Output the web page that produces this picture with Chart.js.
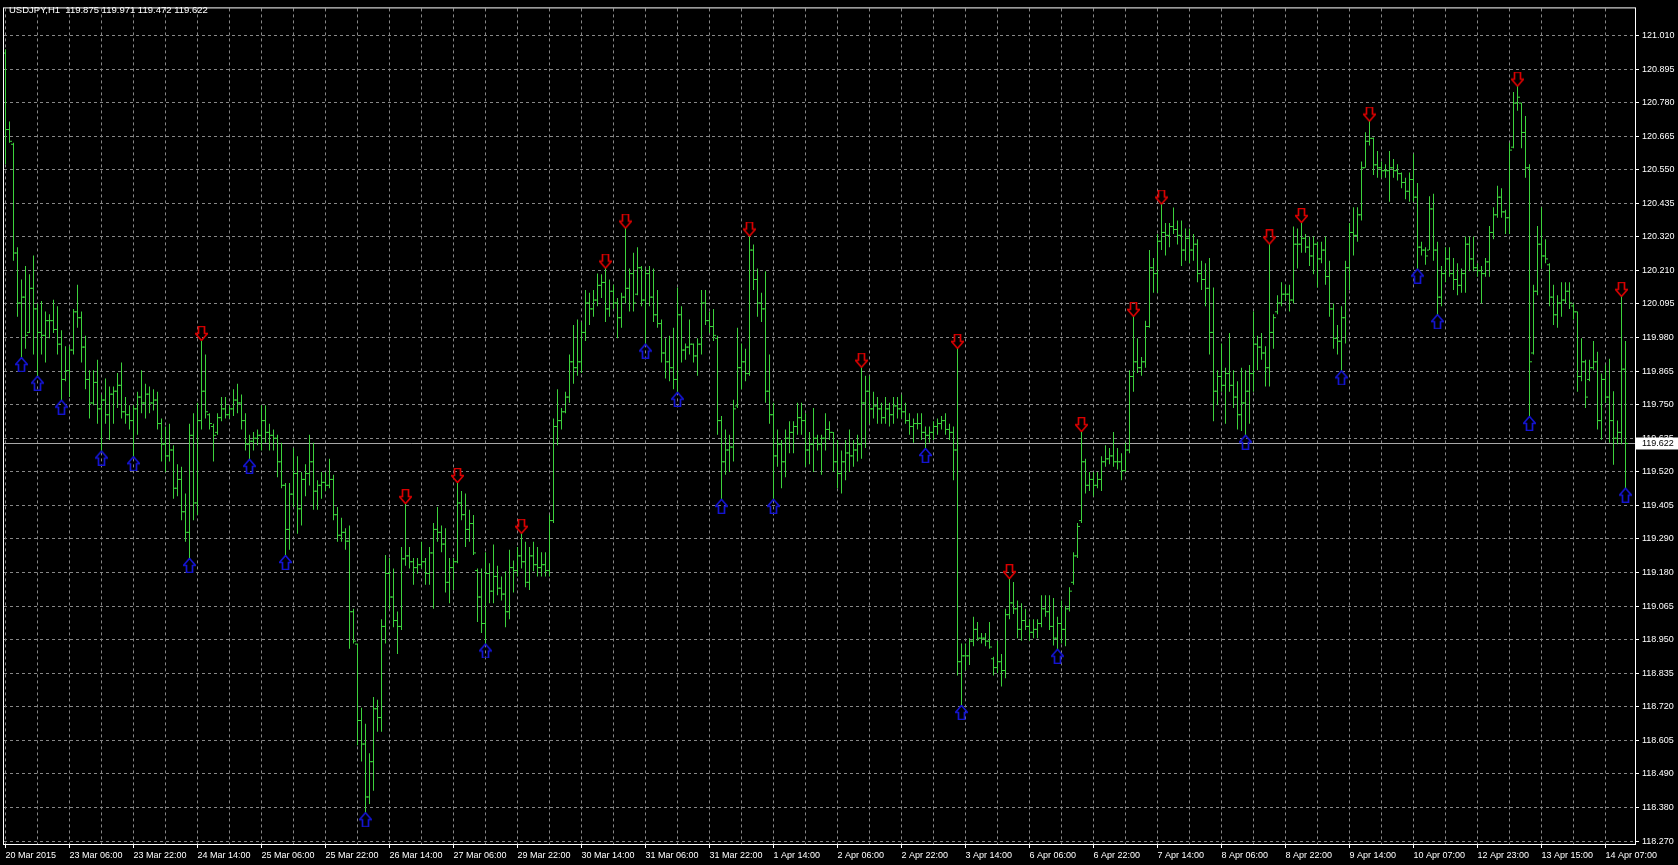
<!DOCTYPE html>
<html>
<head>
<meta charset="utf-8">
<title>USDJPY,H1</title>
<script src="https://cdn.jsdelivr.net/npm/chart.js@4.4.1/dist/chart.umd.min.js"></script>
<style>
  html, body { margin: 0; padding: 0; background: #000; }
  canvas { display: block; background: #000; }
</style>
</head>
<body>
<canvas id="chart" width="1678" height="865"></canvas>
<script>
const symbol = 'USDJPY,H1';

// one label every 16 hourly bars, starting at bar 0
const timeLabels = [
    '20 Mar 2015', '23 Mar 06:00', '23 Mar 22:00', '24 Mar 14:00', '25 Mar 06:00', '25 Mar 22:00',
    '26 Mar 14:00', '27 Mar 06:00', '29 Mar 22:00', '30 Mar 14:00', '31 Mar 06:00', '31 Mar 22:00',
    '1 Apr 14:00', '2 Apr 06:00', '2 Apr 22:00', '3 Apr 14:00', '6 Apr 06:00', '6 Apr 22:00',
    '7 Apr 14:00', '8 Apr 06:00', '8 Apr 22:00', '9 Apr 14:00', '10 Apr 07:00', '12 Apr 23:00',
    '13 Apr 15:00', '14 Apr 07:00'
];

const priceLabels = [
    '121.010', '120.895', '120.780', '120.665', '120.550', '120.435', '120.320', '120.210', '120.095',
    '119.980', '119.865', '119.750', '119.635', '119.520', '119.405', '119.290', '119.180', '119.065',
    '118.950', '118.835', '118.720', '118.605', '118.490', '118.380', '118.270'
];

const opens = [
    120.950,120.690,120.640,120.270,120.100,120.120,120.000,120.150,120.080,120.000,
    119.990,120.040,120.040,120.010,119.960,119.840,119.870,119.940,120.070,120.050,
    119.950,119.840,119.760,119.830,119.740,119.770,119.720,119.790,119.800,119.820,
    119.730,119.720,119.700,119.740,119.780,119.760,119.790,119.760,119.770,119.690,
    119.620,119.580,119.600,119.470,119.500,119.390,119.320,119.650,119.420,119.700,
    119.800,119.720,119.680,119.660,119.710,119.740,119.720,119.740,119.770,119.760,
    119.700,119.620,119.630,119.640,119.650,119.700,119.660,119.650,119.640,119.560,
    119.480,119.330,119.450,119.520,119.400,119.500,119.520,119.560,119.460,119.480,
    119.490,119.480,119.500,119.380,119.310,119.320,119.290,119.050,118.940,118.680,
    118.600,118.420,118.540,118.720,118.690,119.000,119.180,119.100,119.020,119.000,
    119.230,119.240,119.220,119.200,119.210,119.220,119.180,119.250,119.330,119.320,
    119.280,119.150,119.200,119.220,119.420,119.380,119.330,119.350,119.190,119.100,
    119.010,119.180,119.120,119.170,119.130,119.110,119.050,119.200,119.190,119.240,
    119.220,119.150,119.240,119.210,119.200,119.210,119.190,119.360,119.680,119.700,
    119.730,119.780,119.900,119.880,119.900,120.000,120.100,120.080,120.110,120.160,
    120.170,120.080,120.140,120.100,120.050,120.120,120.150,120.200,120.130,120.220,
    120.110,120.200,120.120,120.060,120.030,119.930,119.900,119.880,119.840,120.060,
    119.940,119.950,119.960,119.920,119.960,120.100,120.040,120.020,119.980,119.700,
    119.560,119.600,119.610,119.750,119.880,119.900,119.860,120.280,120.180,120.100,
    120.080,119.800,119.720,119.580,119.620,119.560,119.640,119.660,119.680,119.710,
    119.700,119.600,119.620,119.640,119.620,119.640,119.670,119.660,119.560,119.520,
    119.560,119.590,119.580,119.600,119.620,119.760,119.800,119.740,119.750,119.740,
    119.710,119.740,119.720,119.750,119.740,119.730,119.700,119.680,119.690,119.690,
    119.660,119.650,119.660,119.680,119.690,119.700,119.670,119.660,119.600,118.880,
    118.900,118.900,118.950,118.990,118.960,118.960,118.950,118.890,118.860,118.880,
    118.850,119.040,119.080,119.060,118.990,119.020,119.000,118.980,118.990,119.010,
    119.060,119.050,119.000,118.960,119.010,118.990,119.060,119.150,119.240,119.360,
    119.560,119.480,119.500,119.480,119.500,119.560,119.570,119.580,119.560,119.560,
    119.530,119.600,119.850,119.900,119.880,119.900,120.020,120.220,120.200,120.310,
    120.340,120.330,120.360,120.350,120.330,120.280,120.320,120.280,120.300,120.200,
    120.180,120.150,120.000,119.800,119.850,119.820,119.860,119.820,119.780,119.720,
    119.760,119.800,119.860,119.960,119.950,119.930,119.880,120.000,120.070,120.100,
    120.130,120.130,120.110,120.300,120.300,120.320,120.290,120.260,120.300,120.250,
    120.280,120.190,120.080,119.980,119.970,120.050,120.220,120.340,120.330,120.400,
    120.560,120.650,120.660,120.570,120.560,120.550,120.550,120.560,120.550,120.540,
    120.510,120.480,120.520,120.460,120.290,120.280,120.280,120.420,120.280,120.120,
    120.200,120.250,120.200,120.180,120.160,120.200,120.300,120.250,120.220,120.210,
    120.200,120.240,120.340,120.400,120.460,120.410,120.390,120.630,120.780,120.780,
    120.680,120.560,119.930,120.140,120.300,120.260,120.230,120.120,120.060,120.100,
    120.110,120.140,120.090,120.070,119.850,119.900,119.840,119.880,119.900,119.700,
    119.840,119.780,119.700,119.640,119.660,119.875
];

const highs = [
    120.963,120.717,120.645,120.290,120.180,120.226,120.198,120.262,120.098,120.107,
    120.071,120.062,120.111,120.089,120.007,119.953,119.953,120.080,120.162,120.071,
    119.989,119.871,119.871,119.907,119.789,119.843,119.816,119.816,119.862,119.898,
    119.780,119.752,119.752,119.798,119.871,119.825,119.816,119.807,119.798,119.707,
    119.680,119.689,119.616,119.552,119.543,119.452,119.689,119.725,119.761,119.971,
    119.925,119.725,119.689,119.725,119.780,119.780,119.752,119.807,119.825,119.789,
    119.725,119.652,119.661,119.670,119.752,119.752,119.689,119.670,119.652,119.625,
    119.488,119.488,119.607,119.579,119.525,119.552,119.652,119.625,119.497,119.525,
    119.525,119.570,119.516,119.406,119.370,119.334,119.343,119.060,118.942,118.723,
    118.669,118.569,118.760,118.751,119.024,119.243,119.233,119.197,119.051,119.270,
    119.416,119.270,119.233,119.233,119.288,119.233,119.270,119.352,119.406,119.343,
    119.334,119.233,119.233,119.488,119.461,119.452,119.397,119.379,119.197,119.197,
    119.252,119.215,119.279,119.206,119.170,119.188,119.261,119.224,119.270,119.315,
    119.288,119.270,119.288,119.270,119.252,119.252,119.379,119.707,119.807,119.743,
    119.798,119.925,120.025,120.044,120.035,120.144,120.135,120.144,120.200,120.198,
    120.217,120.180,120.162,120.117,120.135,120.353,120.217,120.271,120.290,120.226,
    120.217,120.226,120.217,120.144,120.044,119.980,119.989,120.016,120.153,120.089,
    119.962,120.044,119.962,119.980,120.144,120.144,120.071,120.080,119.989,119.716,
    119.670,119.652,119.771,120.016,119.962,119.944,120.326,120.299,120.217,120.135,
    120.208,119.925,119.761,119.670,119.634,119.670,119.698,119.698,119.761,119.761,
    119.725,119.661,119.743,119.652,119.652,119.725,119.698,119.661,119.634,119.598,
    119.634,119.670,119.634,119.652,119.880,119.853,119.853,119.798,119.780,119.761,
    119.780,119.761,119.780,119.780,119.789,119.761,119.725,119.707,119.725,119.725,
    119.680,119.680,119.698,119.707,119.716,119.725,119.689,119.680,119.944,118.942,
    118.942,118.960,119.033,119.015,118.978,118.978,119.015,118.897,118.951,118.906,
    119.060,119.161,119.151,119.088,119.079,119.060,119.024,119.024,119.024,119.106,
    119.106,119.106,119.097,119.033,119.088,119.070,119.133,119.252,119.352,119.661,
    119.570,119.525,119.525,119.525,119.579,119.616,119.607,119.661,119.607,119.589,
    119.625,119.871,120.053,119.980,119.916,120.040,120.280,120.253,120.335,120.435,
    120.372,120.372,120.425,120.381,120.381,120.353,120.353,120.335,120.317,120.244,
    120.235,120.253,120.153,119.871,119.962,119.880,119.998,119.871,119.834,119.880,
    119.871,119.889,120.071,119.989,119.998,119.953,120.299,120.062,120.126,120.171,
    120.162,120.162,120.360,120.353,120.372,120.335,120.326,120.326,120.308,120.308,
    120.326,120.244,120.098,120.025,120.089,120.244,120.372,120.426,120.426,120.581,
    120.681,120.717,120.663,120.617,120.581,120.572,120.617,120.590,120.572,120.544,
    120.526,120.544,120.608,120.508,120.308,120.290,120.463,120.472,120.308,120.226,
    120.290,120.290,120.253,120.235,120.217,120.326,120.326,120.326,120.235,120.226,
    120.253,120.362,120.426,120.499,120.490,120.417,120.645,120.818,120.836,120.781,
    120.736,120.572,120.162,120.362,120.426,120.317,120.235,120.162,120.126,120.171,
    120.171,120.171,120.098,120.071,119.980,119.907,119.907,119.971,119.934,119.860,
    119.890,119.910,119.800,119.700,120.121,119.971
];

const lows = [
    120.572,120.645,120.244,120.053,119.916,119.944,119.998,119.925,119.853,119.925,
    119.898,119.980,119.998,119.925,119.771,119.834,119.780,119.925,120.016,119.898,
    119.807,119.707,119.752,119.689,119.598,119.689,119.634,119.689,119.743,119.707,
    119.689,119.670,119.579,119.652,119.725,119.707,119.725,119.734,119.670,119.561,
    119.525,119.561,119.434,119.443,119.361,119.288,119.233,119.361,119.379,119.670,
    119.707,119.670,119.561,119.652,119.698,119.707,119.707,119.716,119.725,119.670,
    119.598,119.570,119.598,119.616,119.598,119.625,119.598,119.598,119.507,119.470,
    119.243,119.261,119.406,119.315,119.343,119.443,119.479,119.397,119.397,119.434,
    119.461,119.470,119.361,119.288,119.288,119.261,118.924,118.942,118.596,118.541,
    118.368,118.396,118.441,118.642,118.642,118.942,119.060,118.997,118.906,118.988,
    119.206,119.197,119.142,119.179,119.197,119.142,119.142,119.060,119.288,119.252,
    119.115,119.079,119.124,119.215,119.361,119.270,119.288,119.243,119.015,118.978,
    118.942,119.079,119.079,119.106,119.088,118.997,119.024,119.115,119.170,119.197,
    119.133,119.124,119.188,119.170,119.170,119.170,119.170,119.352,119.616,119.670,
    119.725,119.761,119.825,119.853,119.862,119.971,120.025,120.053,120.089,120.117,
    120.035,120.053,120.080,119.980,120.016,120.098,120.071,120.071,120.126,120.089,
    119.962,120.089,120.035,120.016,119.898,119.843,119.834,119.807,119.798,119.898,
    119.907,119.925,119.898,119.853,119.925,120.025,119.998,119.971,119.652,119.434,
    119.516,119.525,119.561,119.743,119.807,119.834,119.853,120.144,120.053,120.035,
    119.761,119.689,119.434,119.543,119.470,119.507,119.589,119.589,119.652,119.652,
    119.543,119.552,119.525,119.598,119.516,119.598,119.634,119.525,119.470,119.452,
    119.497,119.525,119.543,119.561,119.570,119.607,119.689,119.707,119.689,119.689,
    119.689,119.680,119.689,119.707,119.707,119.689,119.652,119.625,119.670,119.634,
    119.607,119.625,119.634,119.652,119.670,119.652,119.634,119.497,118.833,118.733,
    118.851,118.869,118.933,118.951,118.942,118.933,118.924,118.833,118.842,118.796,
    118.824,119.024,119.042,118.960,118.951,118.988,118.951,118.960,118.960,118.997,
    119.033,118.988,118.935,118.924,118.942,118.933,119.051,119.142,119.233,119.352,
    119.452,119.461,119.443,119.470,119.461,119.543,119.552,119.543,119.534,119.497,
    119.525,119.589,119.798,119.862,119.853,119.880,120.016,120.135,120.135,120.280,
    120.262,120.290,120.335,120.299,120.226,120.244,120.235,120.244,120.171,120.144,
    120.089,119.925,119.698,119.752,119.798,119.689,119.798,119.743,119.670,119.665,
    119.652,119.689,119.798,119.871,119.907,119.816,119.816,119.944,120.062,120.089,
    120.107,120.071,120.098,120.217,120.271,120.271,120.226,120.198,120.153,120.235,
    120.162,120.053,119.944,119.925,119.871,119.962,120.144,120.262,120.308,120.381,
    120.560,120.636,120.535,120.526,120.526,120.526,120.444,120.526,120.517,120.490,
    120.453,120.444,120.444,120.217,120.262,120.230,120.280,120.244,120.062,120.089,
    120.171,120.189,120.144,120.126,120.135,120.135,120.208,120.208,120.189,120.098,
    120.189,120.189,120.317,120.390,120.390,120.335,120.335,120.626,120.754,120.626,
    120.526,119.716,119.925,120.126,120.217,120.235,120.089,120.025,120.016,120.053,
    120.098,120.080,120.044,119.798,119.834,119.743,119.834,119.871,119.670,119.635,
    119.760,119.625,119.550,119.620,119.620,119.472
];

const closes = [
    120.690,120.650,120.270,120.100,120.120,119.990,120.150,120.080,120.000,119.990,
    120.040,120.040,120.010,119.960,119.840,119.870,119.940,120.070,120.050,119.950,
    119.840,119.760,119.830,119.740,119.770,119.720,119.790,119.800,119.820,119.730,
    119.720,119.700,119.740,119.780,119.760,119.790,119.760,119.770,119.690,119.620,
    119.580,119.600,119.470,119.500,119.390,119.320,119.650,119.420,119.700,119.800,
    119.730,119.690,119.650,119.710,119.740,119.720,119.740,119.770,119.760,119.700,
    119.620,119.630,119.640,119.650,119.700,119.660,119.650,119.640,119.560,119.480,
    119.330,119.450,119.520,119.400,119.500,119.520,119.560,119.460,119.480,119.490,
    119.480,119.500,119.380,119.310,119.320,119.290,119.050,118.950,118.680,118.600,
    118.420,118.540,118.720,118.690,119.000,119.180,119.100,119.020,119.000,119.230,
    119.240,119.220,119.200,119.210,119.220,119.180,119.250,119.330,119.320,119.280,
    119.150,119.200,119.220,119.420,119.380,119.330,119.350,119.250,119.100,119.010,
    119.180,119.120,119.170,119.130,119.110,119.050,119.200,119.190,119.240,119.220,
    119.150,119.240,119.210,119.200,119.210,119.190,119.360,119.680,119.700,119.730,
    119.780,119.900,119.880,119.900,120.000,120.100,120.080,120.110,120.160,120.170,
    120.080,120.140,120.100,120.050,120.120,120.150,120.200,120.100,120.220,120.110,
    120.200,120.120,120.060,120.030,119.930,119.900,119.880,119.840,120.060,119.940,
    119.950,119.960,119.920,119.960,120.100,120.040,120.020,119.990,119.700,119.560,
    119.600,119.610,119.740,119.880,119.900,119.860,120.280,120.180,120.100,120.080,
    119.800,119.720,119.580,119.620,119.560,119.640,119.660,119.680,119.710,119.700,
    119.600,119.620,119.640,119.620,119.640,119.670,119.660,119.560,119.520,119.560,
    119.590,119.580,119.600,119.620,119.760,119.800,119.740,119.750,119.740,119.710,
    119.740,119.720,119.750,119.740,119.730,119.700,119.680,119.690,119.690,119.660,
    119.650,119.660,119.680,119.690,119.700,119.670,119.660,119.600,118.880,118.900,
    118.900,118.950,118.990,118.960,118.960,118.950,118.930,118.860,118.880,118.850,
    119.040,119.080,119.060,118.990,119.020,119.000,118.980,118.990,119.010,119.060,
    119.050,119.000,118.960,119.010,118.990,119.060,119.120,119.240,119.340,119.560,
    119.480,119.500,119.480,119.500,119.560,119.570,119.580,119.560,119.560,119.530,
    119.600,119.850,119.900,119.880,119.900,120.020,120.220,120.200,120.310,120.340,
    120.330,120.360,120.350,120.330,120.280,120.320,120.280,120.300,120.200,120.180,
    120.150,120.000,119.800,119.850,119.820,119.860,119.820,119.780,119.720,119.760,
    119.800,119.860,119.960,119.950,119.930,119.880,120.000,120.050,120.100,120.130,
    120.130,120.110,120.300,120.300,120.320,120.290,120.260,120.300,120.250,120.280,
    120.190,120.080,119.980,119.970,120.050,120.220,120.340,120.330,120.400,120.560,
    120.650,120.660,120.570,120.560,120.550,120.550,120.560,120.550,120.540,120.510,
    120.480,120.520,120.460,120.290,120.280,120.260,120.420,120.280,120.120,120.200,
    120.250,120.200,120.180,120.160,120.200,120.300,120.250,120.220,120.210,120.200,
    120.240,120.340,120.400,120.460,120.410,120.390,120.620,120.780,120.800,120.680,
    120.560,119.900,120.140,120.300,120.260,120.250,120.120,120.060,120.100,120.110,
    120.140,120.100,120.070,119.850,119.900,119.780,119.880,119.900,119.700,119.840,
    119.780,119.700,119.640,119.660,119.875,119.622
];

// bar numbers carrying a fractal arrow
const upFractals = [4, 8, 14, 24, 32, 46, 61, 70, 90, 120, 160, 168, 179, 192, 230, 239, 263, 310, 334, 353, 358, 381, 405];
const downFractals = [49, 100, 113, 129, 150, 155, 186, 214, 238, 251, 269, 282, 289, 316, 324, 341, 378, 404];

const BAR_COLOR = '#3cd23c';
const GRID_COLOR = 'rgb(135,135,135)';
const TEXT_COLOR = '#ffffff';
const FONT = '"Liberation Sans", Arial, sans-serif';
const TICK_SHIFT = 0.375;

// hollow arrow glyph, tip sits on the middle line of the canvas
function makeArrow(color, down) {
    const c = document.createElement('canvas');
    c.width = 13;
    c.height = 30;
    const g = c.getContext('2d');
    const pts = down
        ? [[3.5, 0.5], [9.5, 0.5], [9.5, 7.5], [12.5, 7.5], [6.5, 14.5], [0.5, 7.5], [3.5, 7.5]]
        : [[6.5, 15.5], [12.5, 22.5], [9.5, 22.5], [9.5, 29.5], [3.5, 29.5], [3.5, 22.5], [0.5, 22.5]];
    g.beginPath();
    pts.forEach(([x, y], i) => i ? g.lineTo(x, y) : g.moveTo(x, y));
    g.closePath();
    g.strokeStyle = color;
    g.lineWidth = 1.7;
    g.stroke();
    return c;
}

const bars = highs.map((h, i) => ({x: i, y: [lows[i], h]}));
const openTicks = opens.map((v, i) => ({x: i - TICK_SHIFT, y: v}));
const closeTicks = closes.map((v, i) => ({x: i + TICK_SHIFT, y: v}));
const upArrows = upFractals.map(i => ({x: i, y: lows[i]}));
const downArrows = downFractals.map(i => ({x: i, y: highs[i]}));

const last = closes.length - 1;
const header = `${symbol}  ${opens[last].toFixed(3)} ${highs[last].toFixed(3)} ${lows[last].toFixed(3)} ${closes[last].toFixed(3)}`;

const topPrice = Number(priceLabels[0]);
const bottomPrice = Number(priceLabels[priceLabels.length - 1]);
const priceStep = (topPrice - bottomPrice) / (priceLabels.length - 1);

const terminalLook = {
    id: 'terminalLook',
    beforeDraw(chart) {
        const {ctx, width, height} = chart;
        ctx.save();
        ctx.fillStyle = '#000';
        ctx.fillRect(0, 0, width, height);
        ctx.restore();
    },
    beforeDatasetsDraw(chart) {
        const {ctx, chartArea: a, scales: {y}} = chart;
        const py = Math.round(y.getPixelForValue(closes[last])) - 0.5;
        ctx.save();
        ctx.strokeStyle = '#a8a8a8';
        ctx.lineWidth = 1;
        ctx.beginPath();
        ctx.moveTo(a.left, py);
        ctx.lineTo(a.right, py);
        ctx.stroke();
        ctx.restore();
    },
    afterDraw(chart) {
        const {ctx, chartArea: a, scales: {y}, width} = chart;
        ctx.save();
        ctx.strokeStyle = '#ffffff';
        ctx.lineWidth = 1;
        ctx.strokeRect(a.left - 0.5, a.top - 0.5, a.right - a.left + 1, a.bottom - a.top + 1);

        // last price marker on the scale
        const py = Math.round(y.getPixelForValue(closes[last])) - 0.5;
        ctx.fillStyle = '#ffffff';
        ctx.fillRect(a.right + 1, py - 6, width - a.right - 1, 12);
        ctx.fillStyle = '#000000';
        ctx.font = `9px ${FONT}`;
        ctx.textBaseline = 'middle';
        ctx.fillText(closes[last].toFixed(3), a.right + 7, py + 0.5);

        ctx.fillStyle = TEXT_COLOR;
        ctx.font = `9.5px ${FONT}`;
        ctx.fillText(header, 9, 10);
        ctx.restore();
    }
};

new Chart(document.getElementById('chart'), {
    type: 'bar',
    data: {
        datasets: [
            {
                type: 'scatter',
                data: openTicks,
                pointStyle: 'line',
                pointRadius: 1,
                pointBorderWidth: 1,
                pointBorderColor: BAR_COLOR,
                order: 1
            },
            {
                type: 'scatter',
                data: closeTicks,
                pointStyle: 'line',
                pointRadius: 1,
                pointBorderWidth: 1,
                pointBorderColor: BAR_COLOR,
                order: 1
            },
            {
                type: 'bar',
                data: bars,
                backgroundColor: BAR_COLOR,
                borderWidth: 0,
                barThickness: 1,
                inflateAmount: 0,
                order: 2
            },
            {
                type: 'scatter',
                data: downArrows,
                pointStyle: makeArrow('#d80000', true),
                pointRadius: 6,
                order: 5
            },
            {
                type: 'scatter',
                data: upArrows,
                pointStyle: makeArrow('#1414d0', false),
                pointRadius: 6,
                order: 5
            }
        ]
    },
    options: {
        responsive: false,
        animation: false,
        devicePixelRatio: 1,
        events: [],
        layout: {
            autoPadding: false,
            padding: {top: 2, left: 4, right: 0, bottom: 0}
        },
        plugins: {
            legend: {display: false},
            tooltip: {enabled: false}
        },
        scales: {
            x: {
                type: 'linear',
                position: 'bottom',
                min: -0.375,
                max: 407.375,
                offset: false,
                border: {display: false, dash: [3, 3]},
                grid: {
                    offset: false,
                    color: GRID_COLOR,
                    lineWidth: 1,
                    tickLength: 4,
                    tickColor: (c) => c.index % 2 === 0 ? '#ffffff' : 'rgba(0,0,0,0)'
                },
                ticks: {
                    autoSkip: false,
                    maxRotation: 0,
                    minRotation: 0,
                    align: 'start',
                    padding: 2,
                    color: TEXT_COLOR,
                    font: {family: FONT, size: 9},
                    callback: (v, i) => i % 2 === 0 ? timeLabels[i / 2] : ''
                },
                afterBuildTicks: (scale) => {
                    scale.ticks = timeLabels.flatMap((_, i) => i < timeLabels.length - 1
                        ? [{value: i * 16}, {value: i * 16 + 8}]
                        : [{value: i * 16}]);
                },
                afterFit: (scale) => { scale.height = 21; }
            },
            y: {
                type: 'linear',
                position: 'right',
                min: 118.260,
                max: 121.102,
                beginAtZero: false,
                border: {display: false, dash: [3, 3]},
                grid: {
                    color: GRID_COLOR,
                    lineWidth: 1,
                    tickLength: 4,
                    tickColor: '#ffffff'
                },
                ticks: {
                    padding: 3,
                    color: TEXT_COLOR,
                    font: {family: FONT, size: 9},
                    callback: (v, i) => priceLabels[i]
                },
                afterBuildTicks: (scale) => {
                    scale.ticks = priceLabels.map((_, i) => ({value: topPrice - i * priceStep}));
                },
                afterFit: (scale) => { scale.width = 43; }
            }
        }
    },
    plugins: [terminalLook]
});
</script>
</body>
</html>
